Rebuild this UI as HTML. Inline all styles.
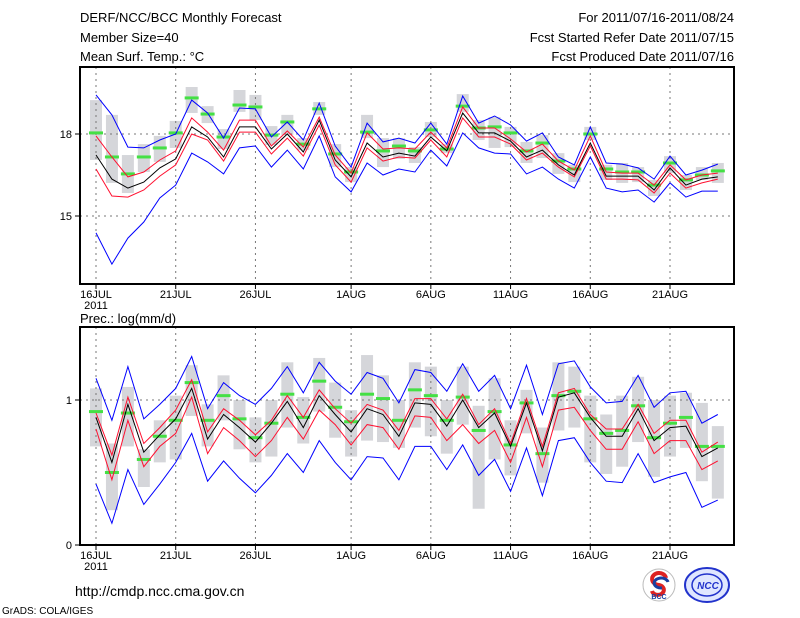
<!DOCTYPE html>
<html><head><meta charset="utf-8"><style>
html,body{margin:0;padding:0;background:#fff;}
svg{display:block;font-family:"Liberation Sans",sans-serif;}
</style></head><body>
<svg id="chart" width="800" height="618" xmlns="http://www.w3.org/2000/svg">
<text x="80" y="22" font-size="13">DERF/NCC/BCC Monthly Forecast</text>
<text x="80" y="42" font-size="13">Member Size=40</text>
<text x="80" y="61" font-size="13">Mean Surf. Temp.: °C</text>
<text x="734" y="22" font-size="13" text-anchor="end">For 2011/07/16-2011/08/24</text>
<text x="734" y="42" font-size="13" text-anchor="end">Fcst Started Refer Date 2011/07/15</text>
<text x="734" y="61" font-size="13" text-anchor="end">Fcst Produced Date 2011/07/16</text>
<text x="80" y="323" font-size="13">Prec.: log(mm/d)</text>
<text x="75" y="596" font-size="14">http://cmdp.ncc.cma.gov.cn</text>
<text x="2" y="614" font-size="10">GrADS: COLA/IGES</text>
<g>
<circle cx="659" cy="585" r="16" fill="#fff" stroke="#bbb"/>
<path d="M666 578 a7 6 0 1 0 -7 7 a6 5 0 1 1 -7 6" fill="none" stroke="#d22" stroke-width="4"/>
<path d="M668 582 a7 5 0 1 0 -6 6" fill="none" stroke="#1b3fa0" stroke-width="3"/>
<text x="659" y="599" font-size="7" font-weight="bold" text-anchor="middle" fill="#1b3fa0">BCC</text>
</g>
<g>
<ellipse cx="707" cy="585" rx="22" ry="17" fill="#dfe6ff" stroke="#2233cc" stroke-width="2"/>
<ellipse cx="707" cy="585" rx="15" ry="11" fill="none" stroke="#2233cc" stroke-width="1.5"/>
<text x="708" y="589" font-size="10" font-style="italic" font-weight="bold" text-anchor="middle" fill="#2233cc">NCC</text>
</g>
<g id="top"></g>
<g id="bot"></g>
</svg>
<script>
const categories=["16JUL","17JUL","18JUL","19JUL","20JUL","21JUL","22JUL","23JUL","24JUL","25JUL","26JUL","27JUL","28JUL","29JUL","30JUL","31JUL","1AUG","2AUG","3AUG","4AUG","5AUG","6AUG","7AUG","8AUG","9AUG","10AUG","11AUG","12AUG","13AUG","14AUG","15AUG","16AUG","17AUG","18AUG","19AUG","20AUG","21AUG","22AUG","23AUG","24AUG"];
const dateLabels=["16JUL","21JUL","26JUL","1AUG","6AUG","11AUG","16AUG","21AUG"];
const tTicks=[15,18];
const pTicks=[0,1];
// Temperature panel
const tBlueUp=[19.43,18.70,17.52,17.49,17.78,18.00,19.24,18.77,17.85,18.95,18.92,17.89,18.44,17.78,19.13,17.56,16.79,18.40,17.71,17.85,17.67,18.40,17.63,19.39,18.40,18.66,18.33,17.74,18.04,17.16,16.87,18.26,16.94,16.90,16.76,16.35,17.19,16.50,16.68,16.90];
const tRedUp=[17.93,17.16,16.43,16.61,17.05,17.38,18.59,18.07,17.41,18.51,18.51,17.56,18.11,17.52,18.62,17.23,16.57,18.04,17.45,17.49,17.45,18.07,17.49,18.99,18.22,18.22,17.82,17.34,17.63,17.01,16.68,17.93,16.61,16.57,16.57,16.13,16.87,16.32,16.50,16.57];
const tMean=[17.23,16.35,16.02,16.24,16.76,17.09,18.26,17.89,17.16,18.26,18.26,17.45,18.00,17.34,18.51,17.05,16.43,17.67,17.16,17.30,17.19,17.89,17.38,18.77,18.04,18.04,17.74,17.16,17.41,16.87,16.50,17.67,16.46,16.46,16.46,15.95,16.76,16.13,16.35,16.43];
const tRedLow=[16.72,15.73,15.69,15.95,16.46,16.87,18.00,17.78,17.01,18.07,18.07,17.27,17.85,17.19,18.33,16.87,16.24,17.49,17.01,17.16,17.12,17.78,17.16,18.59,17.89,17.89,17.63,17.05,17.30,16.79,16.43,17.56,16.35,16.35,16.32,15.84,16.57,16.02,16.21,16.35];
const tBlueLow=[14.38,13.24,14.19,14.78,15.66,16.13,17.30,16.98,16.54,17.49,17.56,16.79,17.41,16.72,17.93,16.43,15.88,16.94,16.50,16.72,16.61,17.41,16.83,18.04,17.49,17.30,17.27,16.54,16.79,16.35,16.02,17.16,16.02,15.88,15.95,15.51,16.21,15.69,15.91,15.91];
const tGreen=[18.04,17.16,16.54,17.16,17.49,18.04,19.32,18.73,17.89,19.06,18.99,17.96,18.44,17.63,18.92,17.27,16.61,18.07,17.38,17.56,17.38,18.15,17.45,19.02,18.22,18.26,18.04,17.38,17.67,17.01,16.72,18.00,16.72,16.61,16.61,16.13,16.94,16.32,16.50,16.65];
const tBoxHi=[19.24,18.70,17.23,17.63,17.93,18.48,19.72,19.02,18.18,19.61,19.43,18.29,18.70,17.85,19.17,17.63,16.79,18.70,17.85,17.85,17.52,18.44,17.63,19.46,18.51,18.62,18.26,17.71,17.96,17.30,16.87,18.26,16.87,16.94,16.79,16.32,17.19,16.50,16.79,16.94];
const tBoxLo=[17.05,16.21,15.84,16.61,16.98,17.49,18.77,18.40,17.45,18.81,18.51,17.60,17.96,17.41,18.70,16.79,16.24,17.85,16.79,17.09,16.94,17.89,17.30,18.81,17.78,17.49,17.52,16.94,17.12,16.54,16.24,17.78,16.32,16.21,16.24,15.73,16.57,15.95,16.32,16.21];
// Precipitation panel
const pBlueUp=[1.15,0.86,1.23,0.87,0.97,1.08,1.30,0.94,1.12,1.03,0.97,1.08,1.23,1.05,1.26,1.13,1.04,1.19,1.15,0.98,1.21,1.19,1.06,1.25,1.06,1.17,0.94,1.24,0.90,1.25,1.27,1.09,0.98,0.99,1.17,0.95,1.05,1.06,0.84,0.90];
const pRedUp=[0.91,0.62,1.02,0.70,0.81,0.93,1.14,0.78,0.94,0.86,0.76,0.86,1.03,0.88,1.07,0.94,0.84,0.97,0.93,0.79,1.01,1.01,0.87,1.04,0.83,0.94,0.70,1.01,0.68,1.05,1.08,0.90,0.80,0.80,0.97,0.77,0.86,0.86,0.64,0.71];
const pMean=[0.88,0.57,0.97,0.64,0.76,0.87,1.08,0.73,0.90,0.81,0.71,0.84,0.99,0.81,1.03,0.90,0.78,0.94,0.90,0.75,0.98,0.97,0.82,1.00,0.81,0.91,0.68,0.98,0.65,1.02,1.05,0.88,0.75,0.75,0.94,0.72,0.81,0.82,0.61,0.67];
const pRedLow=[0.80,0.45,0.86,0.54,0.68,0.77,1.02,0.63,0.81,0.72,0.61,0.72,0.88,0.73,0.93,0.83,0.69,0.83,0.81,0.66,0.89,0.88,0.72,0.83,0.70,0.79,0.57,0.88,0.54,0.93,0.95,0.79,0.66,0.66,0.85,0.63,0.72,0.72,0.52,0.58];
const pBlueLow=[0.42,0.15,0.52,0.28,0.42,0.57,0.77,0.44,0.58,0.46,0.36,0.48,0.63,0.50,0.72,0.57,0.45,0.61,0.60,0.45,0.68,0.68,0.52,0.69,0.48,0.59,0.37,0.67,0.34,0.72,0.74,0.57,0.44,0.43,0.63,0.43,0.47,0.50,0.26,0.31];
const pGreen=[0.92,0.50,0.91,0.59,0.75,0.86,1.12,0.86,1.03,0.87,0.74,0.84,1.04,0.88,1.13,0.95,0.85,1.04,1.01,0.86,1.07,1.03,0.86,1.02,0.79,0.92,0.69,0.98,0.63,1.03,1.06,0.87,0.77,0.79,0.96,0.74,0.84,0.88,0.68,0.68];
const pBoxHi=[1.08,0.70,1.09,0.66,0.86,1.03,1.24,0.97,1.17,1.00,0.88,1.00,1.26,1.02,1.29,1.12,0.93,1.31,1.17,1.00,1.26,1.23,1.00,1.23,0.96,1.15,0.86,1.07,0.81,1.26,1.23,1.03,0.90,1.03,1.16,1.00,1.03,1.05,0.98,0.82];
const pBoxLo=[0.68,0.24,0.68,0.40,0.57,0.59,0.89,0.68,0.86,0.66,0.57,0.61,0.81,0.70,0.92,0.74,0.61,0.72,0.71,0.67,0.81,0.75,0.63,0.83,0.25,0.59,0.48,0.77,0.43,0.79,0.81,0.57,0.49,0.54,0.71,0.47,0.61,0.67,0.44,0.32];

const NS="http://www.w3.org/2000/svg";
const X0=80,X1=734,DAY0X=96,DX=(670-96)/36;
function xAt(i){return DAY0X+i*DX;}
function mk(tag,attrs,parent){const e=document.createElementNS(NS,tag);for(const k in attrs)e.setAttribute(k,attrs[k]);parent.appendChild(e);return e;}

function panel(g,top,bottom,yScale,ticks,series,boxHi,boxLo,green,prefix){
  for(let i=0;i<categories.length;i++){
    const y1=yScale(boxHi[i]),y2=yScale(boxLo[i]);
    const r=mk('rect',{x:xAt(i)-6,y:y1,width:12,height:Math.max(1,y2-y1),fill:'#d5d6da'},g);
    
    
  }
  dateLabels.forEach(d=>{const i=categories.indexOf(d);const x=xAt(i);
    const l=mk('line',{x1:x,x2:x,y1:top,y2:bottom,stroke:'#777','stroke-dasharray':'2,4'},g);
    
    
    const t=mk('line',{x1:x,x2:x,y1:bottom,y2:bottom+5,stroke:'#000'},g);
    
    
    const tx=mk('text',{x:x,y:bottom+14,'font-size':11,'text-anchor':'middle'},g);tx.textContent=d;
    
    
  });
  const yr=mk('text',{x:xAt(0),y:bottom+25,'font-size':11,'text-anchor':'middle'},g);yr.textContent='2011';
  
  
  ticks.forEach(v=>{const y=yScale(v);
    if(y>top+1&&y<bottom-1){const l=mk('line',{x1:X0,x2:X1,y1:y,y2:y,stroke:'#777','stroke-dasharray':'2,4'},g);
      
      }
    const t=mk('line',{x1:X0-5,x2:X0,y1:y,y2:y,stroke:'#000'},g);
    
    
    const tx=mk('text',{x:X0-8,y:y+4,'font-size':11,'text-anchor':'end'},g);tx.textContent=v;
    
    
  });
  for(let i=0;i<categories.length;i++){
    const r=mk('rect',{x:xAt(i)-7,y:yScale(green[i])-1.5,width:14,height:3,fill:'#44e044'},g);
    
    
  }
  series.forEach(s=>{
    const pts=s.data.map((v,i)=>xAt(i).toFixed(1)+','+yScale(v).toFixed(1)).join(' ');
    const p=mk('polyline',{points:pts,fill:'none',stroke:s.color,'stroke-width':1},g);
    
    
  });
  const f=mk('rect',{x:X0,y:top,width:X1-X0,height:bottom-top,fill:'none',stroke:'#000','stroke-width':2},g);
  
  
}
const tTop=67,tBot=284,pTop=327,pBot=545;
const tY=v=>134-(v-18)*27.33;
const pY=v=>545-v*145;
const gT=document.getElementById('top');


const gB=document.getElementById('bot');


panel(gT,tTop,tBot,tY,tTicks,[
 {name:'blue-upper-line',data:tBlueUp,color:'#0000ff'},
 {name:'blue-lower-line',data:tBlueLow,color:'#0000ff'},
 {name:'red-upper-line',data:tRedUp,color:'#ff1030'},
 {name:'red-lower-line',data:tRedLow,color:'#ff1030'},
 {name:'mean-line',data:tMean,color:'#000'}],tBoxHi,tBoxLo,tGreen,'temp');
panel(gB,pTop,pBot,pY,pTicks,[
 {name:'blue-upper-line',data:pBlueUp,color:'#0000ff'},
 {name:'blue-lower-line',data:pBlueLow,color:'#0000ff'},
 {name:'red-upper-line',data:pRedUp,color:'#ff1030'},
 {name:'red-lower-line',data:pRedLow,color:'#ff1030'},
 {name:'mean-line',data:pMean,color:'#000'}],pBoxHi,pBoxLo,pGreen,'prec');
</script>
</body></html>
